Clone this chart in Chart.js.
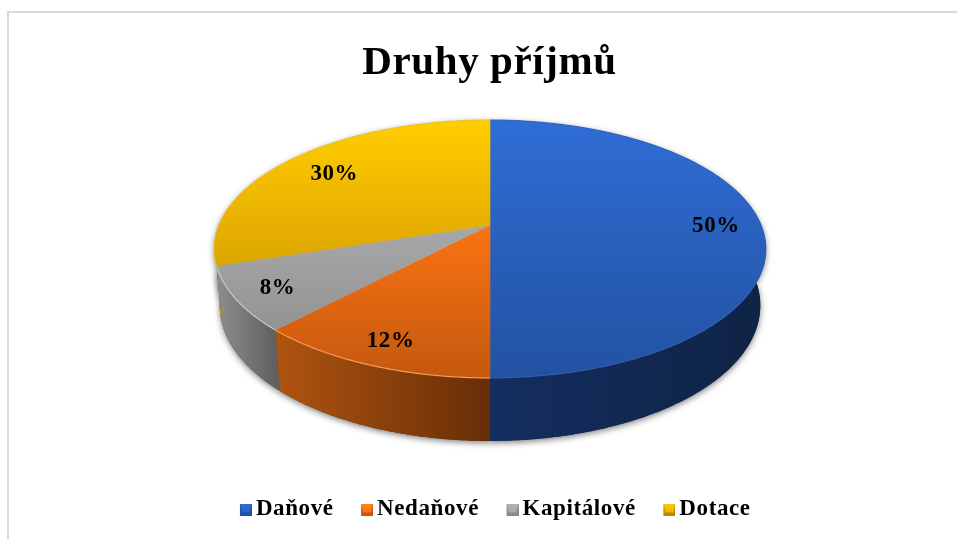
<!DOCTYPE html>
<html lang="cs">
<head>
  <meta charset="UTF-8" />
  <title>Druhy příjmů</title>
  <script src="https://cdn.jsdelivr.net/npm/chart.js"></script>
  <style>
    html, body { margin: 0; background: #fff; overflow: hidden; }
    #frame { position: absolute; left: 7px; top: 11px; right: 0; bottom: 0; border-top: 2px solid #d9d9d9; border-left: 2px solid #d9d9d9; }
    canvas { position: absolute; left: 0; top: 0; }
  </style>
</head>
<body>
  <div id="frame"></div>
  <canvas id="pie" width="957" height="539"></canvas>

  <script>
    const categories = ['Daňové', 'Nedaňové', 'Kapitálové', 'Dotace'];
    const shares = [50, 12, 8, 30];

    // top face gradient (y=120, y=223, y=378), side gradient (left to right), rim line
    const topColors = [
      ['#2f6dd6', '#2a62c0', '#2252a2'],
      ['#ff8516', '#fb7413', '#c4580e'],
      ['#b4b4b4', '#a8a8a8', '#8a8a8a'],
      ['#ffce00', '#e8b000', '#b88a00']
    ];
    const sideColors = [['#142e60', '#0f2345'], ['#b05410', '#672e07'], ['#8e8e8e', '#606060'], ['#d9a400', '#a87f00']];
    const rimColors = ['rgba(60,100,190,0.5)', 'rgba(255,160,90,0.9)', 'rgba(205,205,205,0.9)', 'rgba(240,200,40,0.6)'];
    const labelReach = [0.834, 0.85, 0.85, 0.77];

    // the pie is tilted in perspective, so the apex sits above the middle of the ellipse
    const view = { cx: 490, cy: 225, a: 271, b: 124.5, tilt: 0.186 };

    function project(angle, reach) {
      const u = Math.cos(angle) * reach, v = Math.sin(angle) * reach;
      const w = 1 - view.tilt * v;
      return { x: view.cx + view.a * u / w, y: view.cy + view.b * v / w };
    }

    function dropped(angle) {
      const p = project(angle, 1);
      return { x: view.cx + (p.x - view.cx) * 0.98, y: p.y + 55 + 8 * Math.sin(angle) };
    }

    function angleSteps(start, end) {
      const n = Math.max(2, Math.ceil((end - start) * 90));
      const out = [];
      for (let i = 0; i <= n; i++) out.push(start + (end - start) * i / n);
      return out;
    }

    function sidePath(ctx, arc) {
      const steps = angleSteps(arc.startAngle, arc.endAngle);
      ctx.beginPath();
      steps.forEach((t, i) => { const p = project(t, 1); i ? ctx.lineTo(p.x, p.y) : ctx.moveTo(p.x, p.y); });
      steps.reverse().forEach(t => { const p = dropped(t); ctx.lineTo(p.x, p.y); });
      ctx.closePath();
    }

    function sideBounds(arc) {
      const xs = angleSteps(arc.startAngle, arc.endAngle).map(t => project(t, 1).x);
      return [Math.min(...xs), Math.max(...xs)];
    }

    // 4px of empty space on the left pulls the square closer to its text
    function marker(colors) {
      const c = document.createElement('canvas');
      c.width = 16; c.height = 12;
      const m = c.getContext('2d');
      m.translate(4, 0);
      m.fillStyle = colors[2];
      m.fillRect(0, 0, 12, 12);
      const g = m.createLinearGradient(0, 0, 0, 9);
      g.addColorStop(0, colors[0]);
      g.addColorStop(1, colors[1]);
      m.fillStyle = g;
      m.beginPath();
      m.moveTo(0, 0); m.lineTo(12, 0); m.lineTo(10, 9); m.lineTo(2, 9); m.closePath();
      m.fill();
      return c;
    }

    const pie3d = {
      id: 'pie3d',
      beforeUpdate(chart) {
        chart.ctx.letterSpacing = '0.6px';
      },
      afterLayout(chart) {
        chart.titleBlock.left -= 7.5;
        chart.titleBlock.right -= 7.5;
      },
      beforeDatasetsDraw(chart) {
        const ctx = chart.ctx;
        const arcs = chart.getDatasetMeta(0).data;
        const backToFront = [3, 2, 1, 0];

        // soft shadow under the whole body
        ctx.save();
        ctx.shadowColor = 'rgba(0,0,0,0.5)';
        ctx.shadowBlur = 6;
        ctx.shadowOffsetY = 2;
        ctx.fillStyle = '#333';
        backToFront.forEach(i => { sidePath(ctx, arcs[i]); ctx.fill(); });
        ctx.restore();

        backToFront.forEach(i => {
          const [left, right] = sideBounds(arcs[i]);
          const g = ctx.createLinearGradient(left, 0, right, 0);
          g.addColorStop(0, sideColors[i][0]);
          g.addColorStop(1, sideColors[i][1]);
          ctx.fillStyle = g;
          sidePath(ctx, arcs[i]);
          ctx.fill();
        });

        arcs.forEach((arc, i) => {
          const g = ctx.createLinearGradient(0, 120, 0, 378);
          g.addColorStop(0, topColors[i][0]);
          g.addColorStop(0.4, topColors[i][1]);
          g.addColorStop(1, topColors[i][2]);
          const steps = angleSteps(arc.startAngle, arc.endAngle);
          ctx.beginPath();
          ctx.moveTo(view.cx, view.cy);
          steps.forEach(t => { const p = project(t, 1); ctx.lineTo(p.x, p.y); });
          ctx.closePath();
          ctx.fillStyle = g;
          ctx.fill();
          ctx.strokeStyle = g;
          ctx.lineWidth = 0.6;
          ctx.stroke();
          ctx.beginPath();
          steps.forEach((t, j) => { const p = project(t, 1); j ? ctx.lineTo(p.x, p.y) : ctx.moveTo(p.x, p.y); });
          ctx.strokeStyle = rimColors[i];
          ctx.lineWidth = 1.2;
          ctx.stroke();
        });

        ctx.fillStyle = '#000';
        ctx.font = 'bold 23px "Liberation Serif"';
        ctx.textAlign = 'center';
        ctx.textBaseline = 'middle';
        arcs.forEach((arc, i) => {
          const p = project((arc.startAngle + arc.endAngle) / 2, labelReach[i]);
          ctx.fillText(shares[i] + '%', p.x, p.y + 1);
        });
        return false;
      }
    };

    new Chart(document.getElementById('pie'), {
      type: 'pie',
      data: {
        labels: categories,
        datasets: [{
          data: shares,
          backgroundColor: topColors.map(c => c[1]),
          borderWidth: 0
        }]
      },
      options: {
        responsive: false,
        animation: false,
        layout: { padding: { left: 37, bottom: 8 } },
        plugins: {
          tooltip: { enabled: false },
          title: {
            display: true,
            text: 'Druhy příjmů',
            color: '#000',
            font: { family: '"Liberation Serif"', size: 41, weight: 'bold' },
            padding: { top: 39, bottom: 10 }
          },
          legend: {
            position: 'bottom',
            labels: {
              color: '#000',
              font: { family: '"Liberation Serif"', size: 23, weight: 'bold' },
              usePointStyle: true,
              boxWidth: 1,
              boxHeight: 12,
              padding: 31,
              generateLabels(chart) {
                const items = Chart.overrides.doughnut.plugins.legend.labels.generateLabels(chart);
                items.forEach((item, i) => { item.pointStyle = marker(topColors[i]); });
                return items;
              }
            }
          }
        }
      },
      plugins: [pie3d]
    });
  </script>
</body>
</html>
